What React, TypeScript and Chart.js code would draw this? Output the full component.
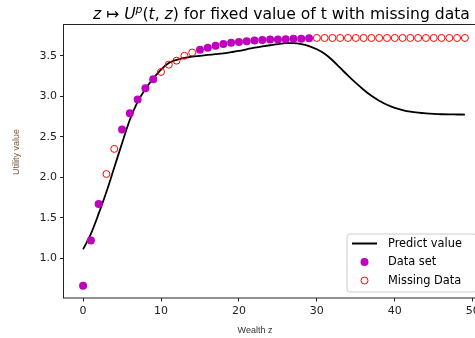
import React, { useEffect, useRef } from "react";
import { Chart, registerables } from "chart.js";

Chart.register(...registerables);

// ---- data ----
const predictX = [0, 1, 2, 3, 4, 5, 6, 7, 8, 9, 10, 11, 12, 13, 14, 15, 16, 17, 18, 19, 20, 21, 22, 23, 24, 25, 26, 27, 28, 29, 30, 31, 32, 33, 34, 35, 36, 37, 38, 39, 40, 41, 42, 43, 44, 45, 46, 47, 48, 49];
const predictY = [1.11, 1.3, 1.55, 1.82, 2.12, 2.42, 2.71, 2.93, 3.09, 3.22, 3.33, 3.41, 3.45, 3.475, 3.49, 3.5, 3.51, 3.52, 3.53, 3.545, 3.56, 3.58, 3.6, 3.615, 3.63, 3.645, 3.655, 3.655, 3.645, 3.62, 3.58, 3.525, 3.445, 3.35, 3.255, 3.165, 3.08, 3.005, 2.945, 2.895, 2.857, 2.83, 2.81, 2.797, 2.788, 2.782, 2.778, 2.776, 2.775, 2.774];

const dataSetX = [0, 1, 2, 5, 6, 7, 8, 9, 15, 16, 17, 18, 19, 20, 21, 22, 23, 24, 25, 26, 27, 28, 29];
const dataSetY = [0.66, 1.22, 1.67, 2.59, 2.79, 2.96, 3.1, 3.21, 3.575, 3.6, 3.625, 3.645, 3.66, 3.67, 3.68, 3.69, 3.695, 3.7, 3.7, 3.705, 3.71, 3.71, 3.715];

const missingX = [3, 4, 10, 11, 12, 13, 14, 30, 31, 32, 33, 34, 35, 36, 37, 38, 39, 40, 41, 42, 43, 44, 45, 46, 47, 48, 49];
const missingY = [2.04, 2.35, 3.3, 3.39, 3.44, 3.5, 3.54, 3.72, 3.72, 3.72, 3.72, 3.72, 3.72, 3.72, 3.72, 3.72, 3.72, 3.72, 3.72, 3.72, 3.72, 3.72, 3.72, 3.72, 3.72, 3.72, 3.72];

const xTicks = [0, 10, 20, 30, 40, 50];
const yTicks = [1.0, 1.5, 2.0, 2.5, 3.0, 3.5];

const legendLabels = ["Predict value", "Data set", "Missing Data"];
const xLabel = "Wealth z";
const yLabel = "Utility value";
const titleParts = [
  { t: "z", it: true, sup: false },
  { t: " \u21A6 ", it: false, sup: false },
  { t: "U", it: true, sup: false },
  { t: "p", it: true, sup: true },
  { t: "(", it: false, sup: false },
  { t: "t", it: true, sup: false },
  { t: ", ", it: false, sup: false },
  { t: "z", it: true, sup: false },
  { t: ")", it: false, sup: false },
  { t: " for fixed value of t with missing data", it: false, sup: false },
];

const FONT = "'DejaVu Sans', sans-serif";
const LFONT = "'Liberation Sans', Arial, sans-serif";
const W = 490;
const H = 338;
const PURPLE = "#bf00bf";
const RED = "#ff0000";

const decorPlugin = {
  id: "decor",
  afterDraw(chart: any) {
    const ctx = chart.ctx;
    const a = chart.chartArea;
    ctx.save();
    // frame
    ctx.strokeStyle = "#222";
    ctx.lineWidth = 1;
    ctx.strokeRect(a.left - 0.5, a.top - 0.5, a.right - a.left + 1, a.bottom - a.top + 1);

    // title
    const size = 15.6;
    let x = 93;
    const base = 18.5;
    ctx.fillStyle = "#000";
    ctx.textBaseline = "alphabetic";
    ctx.textAlign = "left";
    for (const p of titleParts) {
      const fs = p.sup ? size * 0.7 : size;
      ctx.font = `${p.it ? "italic " : ""}${fs}px ${FONT}`;
      ctx.fillText(p.t, x, p.sup ? base - 5.5 : base);
      x += ctx.measureText(p.t).width;
    }

    // axis labels
    ctx.font = `9px ${LFONT}`;
    ctx.fillStyle = "#333";
    ctx.textAlign = "center";
    ctx.textBaseline = "middle";
    ctx.fillText(xLabel, 255, 331);
    ctx.save();
    ctx.translate(17, 152);
    ctx.rotate(-Math.PI / 2);
    ctx.fillStyle = "#7a5a3a";
    ctx.fillText(yLabel, 0, 0);
    ctx.restore();

    // legend
    const bx = 347, by = 234, bw = 130, bh = 58, r = 3;
    ctx.beginPath();
    ctx.moveTo(bx + r, by);
    ctx.lineTo(bx + bw - r, by);
    ctx.quadraticCurveTo(bx + bw, by, bx + bw, by + r);
    ctx.lineTo(bx + bw, by + bh - r);
    ctx.quadraticCurveTo(bx + bw, by + bh, bx + bw - r, by + bh);
    ctx.lineTo(bx + r, by + bh);
    ctx.quadraticCurveTo(bx, by + bh, bx, by + bh - r);
    ctx.lineTo(bx, by + r);
    ctx.quadraticCurveTo(bx, by, bx + r, by);
    ctx.closePath();
    ctx.fillStyle = "rgba(255,255,255,0.8)";
    ctx.fill();
    ctx.strokeStyle = "#cccccc";
    ctx.lineWidth = 1;
    ctx.stroke();

    const rows = [243.5, 262, 280.5];
    ctx.strokeStyle = "#000";
    ctx.lineWidth = 2;
    ctx.beginPath();
    ctx.moveTo(352, rows[0]);
    ctx.lineTo(377, rows[0]);
    ctx.stroke();
    ctx.fillStyle = PURPLE;
    ctx.beginPath();
    ctx.arc(364.5, rows[1], 4, 0, Math.PI * 2);
    ctx.fill();
    ctx.strokeStyle = RED;
    ctx.lineWidth = 1;
    ctx.beginPath();
    ctx.arc(364.5, rows[2], 3.5, 0, Math.PI * 2);
    ctx.stroke();

    ctx.font = `11.4px ${FONT}`;
    ctx.fillStyle = "#000";
    ctx.textAlign = "left";
    ctx.textBaseline = "middle";
    legendLabels.forEach((l, i) => ctx.fillText(l, 388, rows[i] + 0.5));
    ctx.restore();
  },
};

export default function App() {
  const ref = useRef<HTMLCanvasElement>(null);
  useEffect(() => {
    if (!ref.current) return;
    const chart = new Chart(ref.current, {
      type: "scatter",
      data: {
        datasets: [
          {
            label: legendLabels[1],
            data: dataSetX.map((x, i) => ({ x, y: dataSetY[i] })),
            backgroundColor: PURPLE,
            borderColor: PURPLE,
            borderWidth: 0,
            pointRadius: 4,
            order: 1,
          },
          {
            label: legendLabels[2],
            data: missingX.map((x, i) => ({ x, y: missingY[i] })),
            backgroundColor: "rgba(0,0,0,0)",
            borderColor: RED,
            borderWidth: 1,
            pointRadius: 3.5,
            order: 2,
          },
          {
            type: "line",
            label: legendLabels[0],
            data: predictX.map((x, i) => ({ x, y: predictY[i] })),
            borderColor: "#000",
            borderWidth: 1.8,
            pointRadius: 0,
            showLine: true,
            fill: false,
            cubicInterpolationMode: "monotone",
            order: 3,
          } as any,
        ],
      },
      options: {
        animation: false,
        responsive: false,
        devicePixelRatio: 1,
        layout: { padding: { left: 0, top: 25, right: W - 484, bottom: 0 } },
        plugins: { legend: { display: false }, tooltip: { enabled: false }, title: { display: false } },
        scales: {
          x: {
            type: "linear",
            min: -2.45,
            max: 51.45,
            afterBuildTicks: (s: any) => {
              s.ticks = xTicks.map((v) => ({ value: v }));
            },
            afterFit: (s: any) => {
              s.height = 40.5;
            },
            grid: { drawOnChartArea: false, drawTicks: true, tickLength: 4, color: "#222" },
            border: { display: false },
            ticks: {
              font: { family: FONT, size: 11 },
              color: "#222",
              padding: 3,
              maxRotation: 0,
              autoSkip: false,
              callback: (v: any) => String(v),
            },
          },
          y: {
            type: "linear",
            min: 0.515,
            max: 3.88,
            afterBuildTicks: (s: any) => {
              s.ticks = yTicks.map((v) => ({ value: v }));
            },
            afterFit: (s: any) => {
              s.width = 64;
            },
            grid: { drawOnChartArea: false, drawTicks: true, tickLength: 4, color: "#222" },
            border: { display: false },
            ticks: {
              font: { family: FONT, size: 11 },
              color: "#222",
              padding: 3,
              autoSkip: false,
              callback: (v: any) => Number(v).toFixed(1),
            },
          },
        },
      },
      plugins: [decorPlugin],
    });
    return () => chart.destroy();
  }, []);
  return (
    <div style={{ position: "fixed", left: 0, top: 0, width: 475, height: 338, overflow: "hidden", background: "#fff" }}>
      <canvas ref={ref} width={W} height={H} style={{ display: "block", width: W, height: H }} />
    </div>
  );
}
